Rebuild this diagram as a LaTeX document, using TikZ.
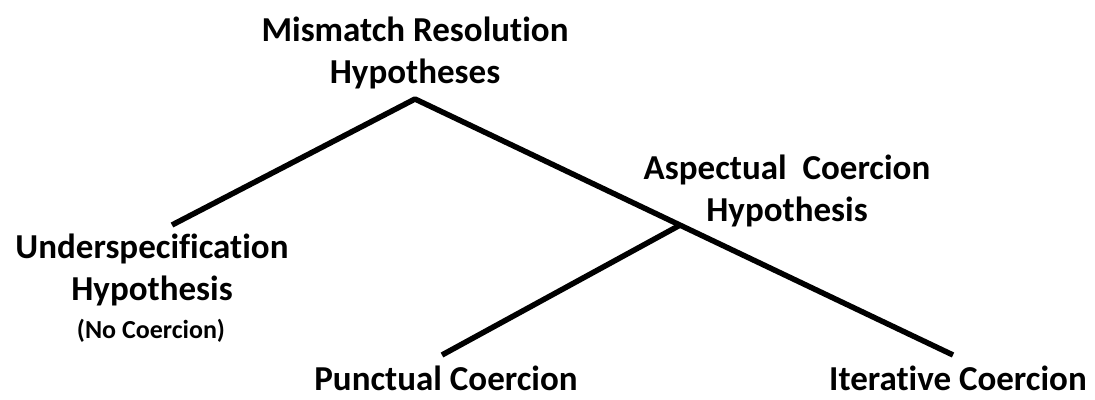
\documentclass[tikz,border=0pt]{standalone}
\usepackage{fontspec}
\setmainfont{Carlito}[Ligatures=CommonOff]
\usepackage{tikz}
\usetikzlibrary{calc}

\begin{document}
\begin{tikzpicture}[x=1pt, y=-1pt,
    hyp/.style={font=\bfseries\fontsize{35}{42}\selectfont, align=center, inner sep=0pt, anchor=base},
    leaf/.style={font=\bfseries\fontsize{35}{42}\selectfont, inner sep=0pt, anchor=base, text depth=0pt},
    branch/.style={line width=5.5pt, line join=round}]
  \useasboundingbox (0,0) rectangle (1095,399);

  % labels
  \node[hyp] (mismatch) at (415,83) {Mismatch Resolution\\Hypotheses};
  \node[hyp] (under) at (152,300) {Underspecification\\Hypothesis};
  \node[font=\bfseries\fontsize{26}{30}\selectfont, inner sep=0pt, anchor=base] (nocoer) at (151,338) {(No Coercion)};
  \node[hyp] (aspect) at (787,221) {Aspectual\ \ Coercion\\Hypothesis};
  \node[leaf] (punct) at (446,390) {Punctual Coercion};
  \node[leaf] (iter) at (958,390) {Iterative Coercion};

  % tree
  \coordinate (apex) at (415,99);
  \coordinate (under-tip) at (172,225);
  \coordinate (iter-tip) at (953,355);
  \coordinate (punct-tip) at (442,355);
  \coordinate (fork) at ($(apex)!0.4926!(iter-tip)$);

  \draw[branch] (under-tip) -- (apex) -- (iter-tip);
  \draw[branch] (fork) -- (punct-tip);
\end{tikzpicture}
\end{document}
